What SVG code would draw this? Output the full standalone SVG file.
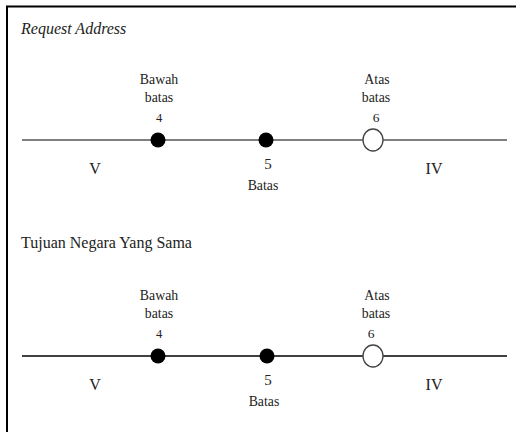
<svg xmlns="http://www.w3.org/2000/svg" width="516" height="432" viewBox="0 0 516 432" font-family="'Liberation Serif', 'DejaVu Serif', serif">
<style>
text{font-family:'Liberation Serif','DejaVu Serif',serif;fill:#222;text-anchor:middle}
.s{font-size:13.8px}
.n{font-size:12.5px}
.m{font-size:15px}
.r{font-size:16px}
.t{font-size:16px;text-anchor:start}
.axis{stroke-width:1.5}
.dot{fill:#000}
.open{fill:#fff;stroke:#444;stroke-width:1.3}
</style>
<rect width="516" height="432" fill="#fff"/>
<g id="frame" stroke="#000" stroke-width="2" fill="none">
<path d="M7,433 V6.5 H516"/>
</g>
<text class="t" x="21" y="34" font-style="italic">Request Address</text>
<text class="t" x="21" y="248">Tujuan Negara Yang Sama</text>
<g id="connectors">
<line class="axis" x1="22" y1="140" x2="507" y2="140" stroke="#555"/>
<line class="axis" x1="22" y1="356" x2="507" y2="356" stroke="#000"/>
</g>
<g id="p1-lower">
<circle class="dot" cx="158" cy="140" r="7.5"/>
<text class="s" x="159" y="84">Bawah</text>
<text class="s" x="159" y="102">batas</text>
<text class="n" x="159" y="122">4</text>
</g>
<g id="p1-mid">
<circle class="dot" cx="266" cy="140" r="7.5"/>
<text class="m" x="268" y="169">5</text>
<text class="s" x="263" y="190">Batas</text>
</g>
<g id="p1-upper">
<ellipse class="open" cx="373" cy="140" rx="10" ry="11"/>
<text class="s" x="377" y="84">Atas</text>
<text class="s" x="376" y="102">batas</text>
<text class="m" x="376" y="122" style="font-size:13.5px">6</text>
</g>
<g id="p1-regions">
<text class="r" x="95" y="174">V</text>
<text class="r" x="434" y="174">IV</text>
</g>
<g id="p2-lower">
<circle class="dot" cx="158" cy="356" r="7.5"/>
<text class="s" x="159" y="300">Bawah</text>
<text class="s" x="159" y="318">batas</text>
<text class="n" x="159" y="338">4</text>
</g>
<g id="p2-mid">
<circle class="dot" cx="267" cy="356" r="7.5"/>
<text class="m" x="268" y="385">5</text>
<text class="s" x="264" y="406">Batas</text>
</g>
<g id="p2-upper">
<ellipse class="open" cx="373" cy="356" rx="10" ry="11"/>
<text class="s" x="377" y="300">Atas</text>
<text class="s" x="376" y="318">batas</text>
<text class="m" x="371" y="338" style="font-size:13.5px">6</text>
</g>
<g id="p2-regions">
<text class="r" x="95" y="390">V</text>
<text class="r" x="434" y="390">IV</text>
</g>
</svg>
